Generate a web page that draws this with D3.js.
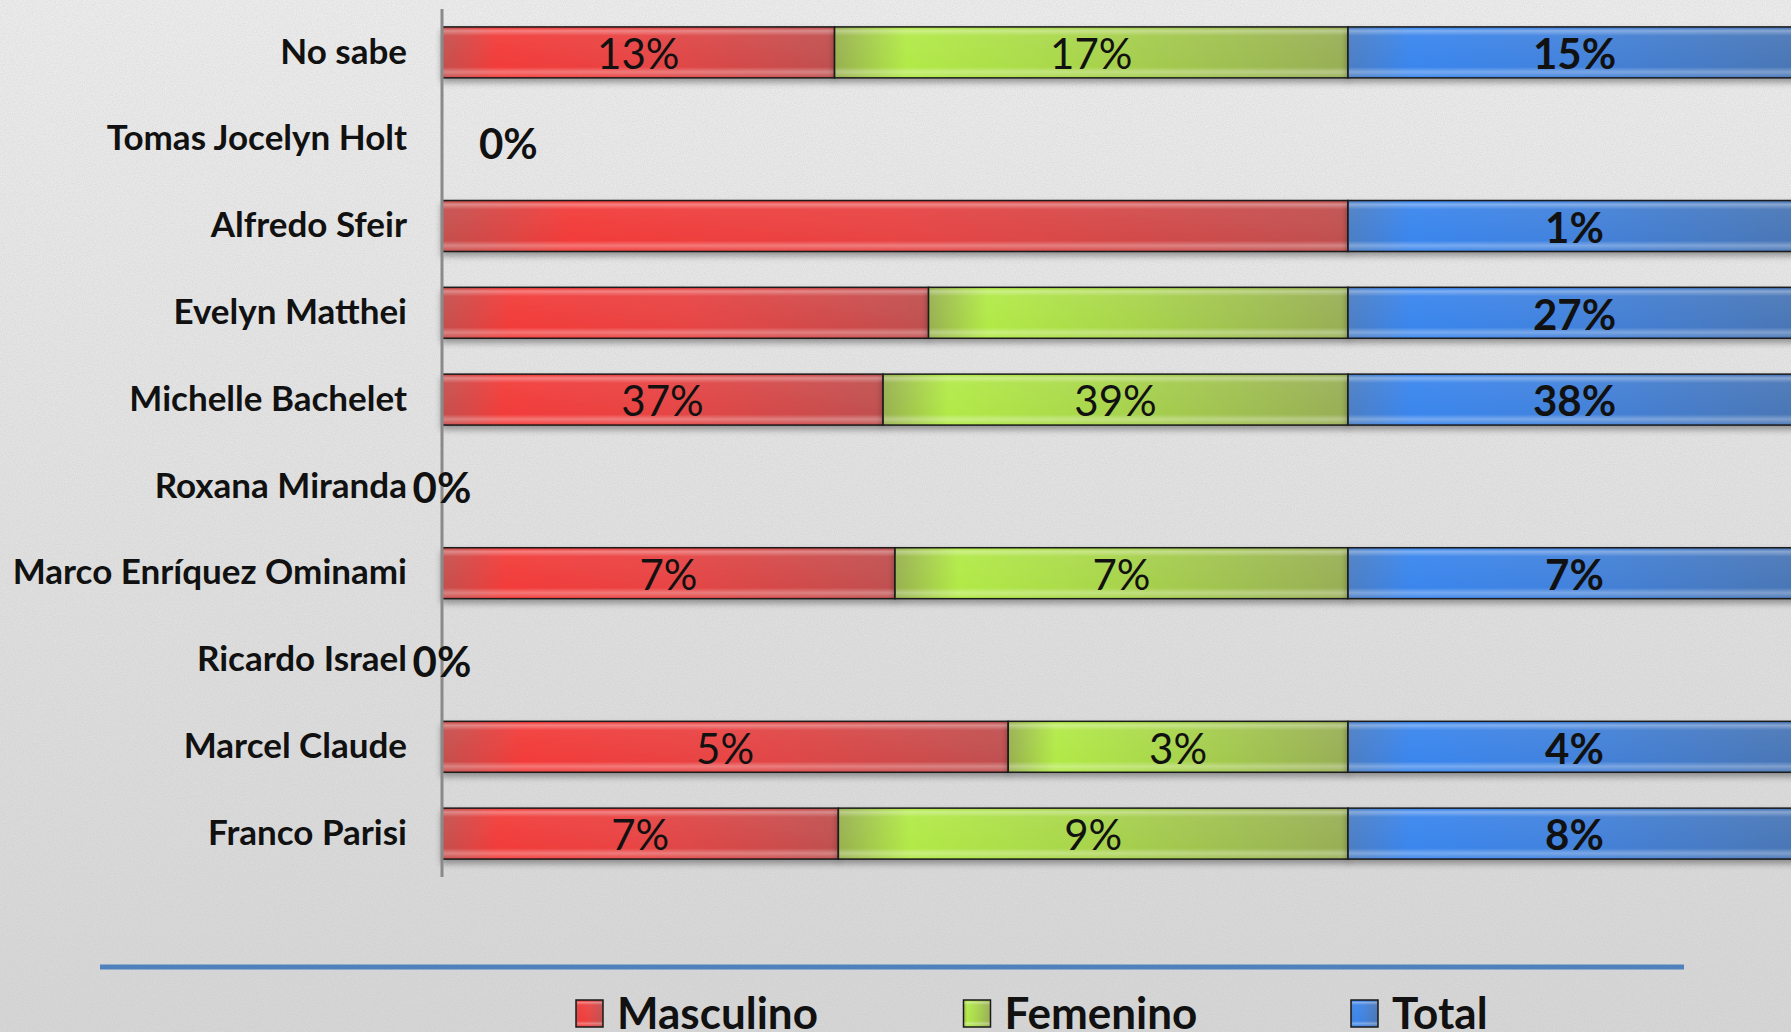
<!DOCTYPE html>
<html>
<head>
<meta charset="utf-8">
<script src="https://cdn.jsdelivr.net/npm/d3@7"></script>
<style>
  html, body { margin: 0; padding: 0; background: #e2e2e2; }
  svg { display: block; }
</style>
</head>
<body>
<script>
// ---------------- DATA ----------------
const categories = ["No sabe", "Tomas Jocelyn Holt", "Alfredo Sfeir", "Evelyn Matthei",
  "Michelle Bachelet", "Roxana Miranda", "Marco Enríquez Ominami", "Ricardo Israel",
  "Marcel Claude", "Franco Parisi"];
const seriesNames = ["Masculino", "Femenino", "Total"];
const masculino = [13, 0, 2, 29, 37, 0, 7, 0, 5, 7];
const femenino  = [17, 0, 0, 25, 39, 0, 7, 0, 3, 9];
const total     = [15, 0, 1, 27, 38, 0, 7, 0, 4, 8];
// labels that are not displayed in the original
const hiddenLabels = [["Alfredo Sfeir", "Masculino"], ["Evelyn Matthei", "Masculino"], ["Evelyn Matthei", "Femenino"]];

// ---------------- LAYOUT ----------------
const W = 1791, H = 1032;
const FONT = "Lato, 'Open Sans', sans-serif";
const svg = d3.select("body").append("svg").attr("width", W).attr("height", H);
const defs = svg.append("defs");

// background
const bg = defs.append("linearGradient").attr("id", "bg").attr("x1", 0).attr("y1", 0).attr("x2", 0).attr("y2", 1);
bg.append("stop").attr("offset", "0%").attr("stop-color", "#ececec");
bg.append("stop").attr("offset", "100%").attr("stop-color", "#d6d6d6");
const noise = defs.append("filter").attr("id", "noise").attr("x", 0).attr("y", 0).attr("width", "100%").attr("height", "100%");
noise.append("feTurbulence").attr("type", "fractalNoise").attr("baseFrequency", 0.9).attr("numOctaves", 2).attr("seed", 3).attr("result", "t");
noise.append("feColorMatrix").attr("in", "t").attr("type", "matrix")
  .attr("values", "0 0 0 0 0.5  0 0 0 0 0.5  0 0 0 0 0.5  0 0 0 -1.6 1.1").attr("result", "n");
noise.append("feComposite").attr("in", "n").attr("in2", "SourceGraphic").attr("operator", "in");
svg.append("rect").attr("width", W).attr("height", H).attr("fill", "url(#bg)");
svg.append("rect").attr("width", W).attr("height", H).attr("fill", "#888").attr("filter", "url(#noise)").attr("opacity", 0.3);

// gradients per series
const gradStops = {
  Masculino: ["#c4504e", "#f23c3a", "#e84444", "#c05050"],
  Femenino:  ["#98b050", "#b2ea48", "#a8d44c", "#98ae56"],
  Total:     ["#4c7ec4", "#3a86ee", "#4282dc", "#4a76b4"]
};
const colorKeys = {};
seriesNames.forEach((s, i) => {
  const g = defs.append("linearGradient").attr("id", "g" + i).attr("x1", 0).attr("y1", 0).attr("x2", 1).attr("y2", 0);
  const st = gradStops[s];
  [[0, st[0]], [0.14, st[1]], [0.5, st[2]], [1, st[3]]].forEach(([o, c]) =>
    g.append("stop").attr("offset", o).attr("stop-color", c));
  colorKeys[s] = "url(#g" + i + ")";
});
// vertical gloss overlay
const gloss = defs.append("linearGradient").attr("id", "gloss").attr("x1", 0).attr("y1", 0).attr("x2", 0).attr("y2", 1);
[[0, "#fff", 0.0], [0.06, "#fff", 0.35], [0.16, "#fff", 0.05], [0.8, "#fff", 0.0], [0.9, "#fff", 0.3], [1, "#fff", 0.05]]
  .forEach(([o, c, a]) => gloss.append("stop").attr("offset", o).attr("stop-color", c).attr("stop-opacity", a));
const shadow = defs.append("filter").attr("id", "shadow").attr("x", "-5%").attr("y", "-30%").attr("width", "110%").attr("height", "180%");
shadow.append("feDropShadow").attr("dx", 0).attr("dy", 4).attr("stdDeviation", 3).attr("flood-color", "#000").attr("flood-opacity", 0.35);

// scales
const x = d3.scaleLinear().domain([0, 1]).range([442, 1801]);
const y = d3.scaleBand().domain(categories).range([9, 877]).paddingInner(0.413).paddingOuter(0.2065);

// stacked data
const rows = categories.map((c, i) => ({ cat: c, Masculino: masculino[i], Femenino: femenino[i], Total: total[i] }));
const stack = d3.stack().keys(seriesNames).offset(d3.stackOffsetExpand);
const stacked = stack(rows);

const plot = svg.append("g");
stacked.forEach((layer, si) => {
  const g = plot.append("g").attr("filter", "url(#shadow)");
  layer.forEach(d => {
    const a = d[0], b = d[1];
    if (!isFinite(a) || !isFinite(b) || b - a <= 0) return;
    const x0 = x(a), x1 = x(b), yy = y(d.data.cat), h = y.bandwidth();
    g.append("rect").attr("x", x0).attr("y", yy).attr("width", x1 - x0).attr("height", h)
      .attr("fill", colorKeys[layer.key]).attr("stroke", "#1a1a1a").attr("stroke-width", 1.5);
    g.append("rect").attr("x", x0 + 1).attr("y", yy + 1).attr("width", Math.max(0, x1 - x0 - 2)).attr("height", h - 2)
      .attr("fill", "url(#gloss)");
  });
});

// axis line (category axis)
const yAxis = d3.axisLeft(y).tickSize(0).tickPadding(35);
const ag = svg.append("g").attr("transform", `translate(${x(0)},0)`).call(yAxis);
ag.select(".domain").attr("stroke", "#8a8a8a").attr("stroke-width", 3).attr("d", `M0,9V877`);
ag.selectAll(".tick text").attr("font-family", FONT).attr("font-weight", "bold")
  .attr("font-size", 35).attr("fill", "#111").attr("dy", "0.32em");

// value labels
const isHidden = (cat, key) => hiddenLabels.some(([c, k]) => c === cat && k === key);
const labels = svg.append("g").attr("font-family", FONT).attr("fill", "#111");
const leftShifted = new Set(["Tomas Jocelyn Holt"]);
rows.forEach((r, i) => {
  const sumRow = r.Masculino + r.Femenino + r.Total;
  const cy = y(r.cat) + y.bandwidth() / 2;
  if (sumRow === 0) {
    const t = labels.append("text").text(total[i] + "%").attr("font-weight", "bold").attr("font-size", 42)
      .attr("y", cy + (leftShifted.has(r.cat) ? 5 : 2)).attr("dy", "0.35em");
    if (leftShifted.has(r.cat)) t.attr("x", x(0) + 37).attr("text-anchor", "start");
    else t.attr("x", x(0)).attr("text-anchor", "middle");
    return;
  }
  stacked.forEach(layer => {
    const d = layer[i];
    if (d[1] - d[0] <= 0 || isHidden(r.cat, layer.key)) return;
    labels.append("text").text(r[layer.key] + "%")
      .attr("x", (x(d[0]) + x(d[1])) / 2).attr("y", cy + 2).attr("dy", "0.35em")
      .attr("text-anchor", "middle").attr("font-size", 42)
      .attr("font-weight", layer.key === "Total" ? "bold" : "normal");
  });
});

// legend
svg.append("line").attr("x1", 100).attr("x2", 1684).attr("y1", 967).attr("y2", 967)
  .attr("stroke", "#4f81bd").attr("stroke-width", 5);
const legendX = d3.scalePoint().domain(seriesNames).range([576, 1351]);
const lg = svg.append("g").selectAll("g").data(seriesNames).join("g")
  .attr("transform", d => `translate(${legendX(d)},1000)`);
lg.append("rect").attr("width", 27).attr("height", 27).attr("fill", d => colorKeys[d]).attr("stroke", "#1a1a1a").attr("stroke-width", 1.5);
lg.append("rect").attr("x", 1).attr("y", 1).attr("width", 25).attr("height", 25).attr("fill", "url(#gloss)");
lg.append("text").text(d => d).attr("x", 41).attr("y", 29)
  .attr("font-family", FONT).attr("font-weight", "bold").attr("font-size", 44).attr("fill", "#111");
</script>
</body>
</html>
